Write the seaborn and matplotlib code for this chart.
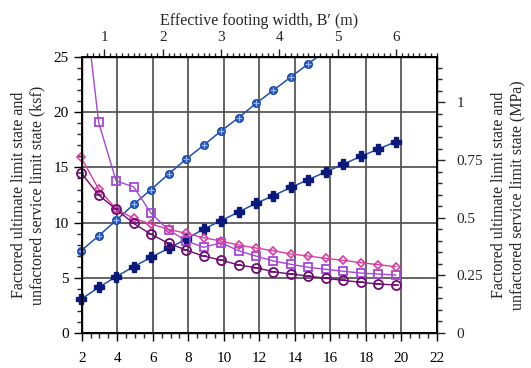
import numpy as np
import pandas as pd
import matplotlib
matplotlib.use("Agg")
import matplotlib.pyplot as plt
from matplotlib.ticker import MultipleLocator, FuncFormatter
import seaborn as sns

# Effective footing width (m) of computed points
width_m = [0.6, 0.9, 1.2, 1.5, 1.8, 2.1, 2.4, 2.7, 3.0, 3.3, 3.6, 3.9, 4.2, 4.5, 4.8, 5.1, 5.4, 5.7, 6.0]

# Pressures (ksf)
navy_plus = [3.05, 4.14, 5.1, 6.0, 6.86, 7.67, 8.5, 9.42, 10.17, 10.96, 11.75, 12.44, 13.2, 13.9, 14.6, 15.3, 16.0, 16.67, 17.33]
blue_circle_cross = [7.45, 8.8, 10.2, 11.65, 13.0, 14.4, 15.75, 17.0, 18.3, 19.5, 20.8, 22.0, 23.2, 24.4, 25.6]
pink_diamond = [15.9, 13.04, 11.23, 10.39, 9.87, 9.39, 9.03, 8.63, 8.33, 7.97, 7.7, 7.45, 7.16, 6.97, 6.76, 6.58, 6.37, 6.19, 6.0]
purple_circle = [14.52, 12.5, 11.2, 9.93, 8.94, 8.12, 7.52, 6.97, 6.61, 6.16, 5.92, 5.55, 5.34, 5.16, 4.95, 4.77, 4.59, 4.44, 4.35]
violet_square = [32.8, 19.08, 13.77, 13.25, 10.84, 9.33, 8.36, 7.76, 8.18, 7.45, 6.97, 6.52, 6.22, 5.95, 5.77, 5.59, 5.43, 5.34, 5.25]

FT_PER_M = 3.28084
KSF_PER_MPA = 20.8854
YMAX = 25

sns.set_theme(style="ticks")
plt.rcParams["font.family"] = ["Liberation Serif", "DejaVu Serif"]
plt.rcParams["font.size"] = 11

fig = plt.figure(figsize=(5.31, 3.68), dpi=100)
ax = fig.add_axes([0.1539, 0.0951, 0.6691, 0.7499])

x_ft = np.array(width_m) * FT_PER_M

def frame(vals):
    return pd.DataFrame({"x": x_ft[:len(vals)], "y": vals})

def inside(vals):
    d = frame(vals)
    return d[d.y <= YMAX]

grid_c = "#4a4a4a"
for v in range(4, 22, 2):
    ax.axvline(v, color=grid_c, lw=1.2, zorder=1)
for h in [5, 10, 15, 20]:
    ax.axhline(h, color=grid_c, lw=1.2, zorder=1)

c_blue = "#1f4fb0"
c_navy = "#0b1a7a"
c_pink = "#d83ea2"
c_purple = "#6e0a72"
c_violet = "#a546d8"

# lines
sns.lineplot(data=frame(blue_circle_cross), x="x", y="y", ax=ax, color=c_blue, lw=1.1, zorder=4)
sns.lineplot(data=frame(navy_plus), x="x", y="y", ax=ax, color=c_blue, lw=1.1, zorder=4)
sns.lineplot(data=frame(violet_square), x="x", y="y", ax=ax, color=c_violet, lw=1.0, zorder=4)
sns.lineplot(data=frame(pink_diamond), x="x", y="y", ax=ax, color=c_pink, lw=1.0, zorder=4)
sns.lineplot(data=frame(purple_circle), x="x", y="y", ax=ax, color=c_purple, lw=1.0, zorder=4)

# markers
d = inside(blue_circle_cross)
ax.plot(d.x, d.y, ls="none", marker="o", ms=5.5, color=c_blue, mec=c_blue, zorder=5, clip_on=False)
ax.plot(d.x, d.y, ls="none", marker="+", ms=4, mew=0.9, color="#9ab8ff", zorder=6, clip_on=False)

d = inside(navy_plus)
ax.plot(d.x, d.y, ls="none", marker="P", ms=6.5, color=c_navy, mec=c_navy, zorder=5, clip_on=False)

d = inside(violet_square)
ax.plot(d.x, d.y, ls="none", marker="s", ms=5.5, mfc="none", mec=c_violet, mew=1.3, zorder=5, clip_on=False)

d = inside(pink_diamond)
ax.plot(d.x, d.y, ls="none", marker="D", ms=4.5, mfc="none", mec=c_pink, mew=1.2, zorder=5, clip_on=False)

d = inside(purple_circle)
ax.plot(d.x, d.y, ls="none", marker="o", ms=6.5, mfc="none", mec=c_purple, mew=1.3, zorder=5, clip_on=False)
ax.plot(d.x, d.y, ls="none", marker="_", ms=4.5, mew=1.1, color=c_purple, zorder=6, clip_on=False)

ax.set_xlim(2, 22)
ax.set_ylim(0, YMAX)
ax.set_xlabel("")
ax.set_ylabel("Factored ultimate limit state and\nunfactored service limit state (ksf)", fontsize=11.5, labelpad=6)
ax.xaxis.set_major_locator(MultipleLocator(2))
ax.xaxis.set_minor_locator(MultipleLocator(0.5))
ax.yaxis.set_major_locator(MultipleLocator(5))
ax.yaxis.set_minor_locator(MultipleLocator(1))
ax.tick_params(which="major", direction="out", length=6, width=1, colors="black", labelsize=11)
ax.tick_params(which="minor", direction="out", length=3.5, width=1)
ax.tick_params(axis="x", pad=8)
for sp in ax.spines.values():
    sp.set_color("black")
    sp.set_linewidth(1.0)
    sp.set_visible(True)

# right axis MPa
axr = ax.twinx()
axr.set_ylim(0, YMAX / KSF_PER_MPA)
axr.yaxis.set_major_locator(MultipleLocator(0.25))
axr.yaxis.set_minor_locator(MultipleLocator(0.05))
axr.yaxis.set_major_formatter(FuncFormatter(lambda v, p: f"{v:g}"))
axr.tick_params(which="major", direction="out", length=6, width=1, labelsize=11, pad=8)
axr.tick_params(which="minor", direction="out", length=3.5, width=1)
axr.set_ylabel("Factored ultimate limit state and\nunfactored service limit state (MPa)", fontsize=11.5,
               rotation=90, labelpad=6)
for sp in axr.spines.values():
    sp.set_color("black")

# top axis m
axt = ax.twiny()
axt.set_xlim(2 / FT_PER_M, 22 / FT_PER_M)
axt.xaxis.set_major_locator(MultipleLocator(1))
axt.xaxis.set_minor_locator(MultipleLocator(0.1))
axt.tick_params(which="major", direction="out", length=6, width=1, labelsize=11)
axt.tick_params(which="minor", direction="out", length=3, width=1)
axt.set_xlabel("Effective footing width, B\u2032 (m)", fontsize=11.5, labelpad=4)
for sp in axt.spines.values():
    sp.set_color("black")

fig.savefig("out.png", dpi=100)
